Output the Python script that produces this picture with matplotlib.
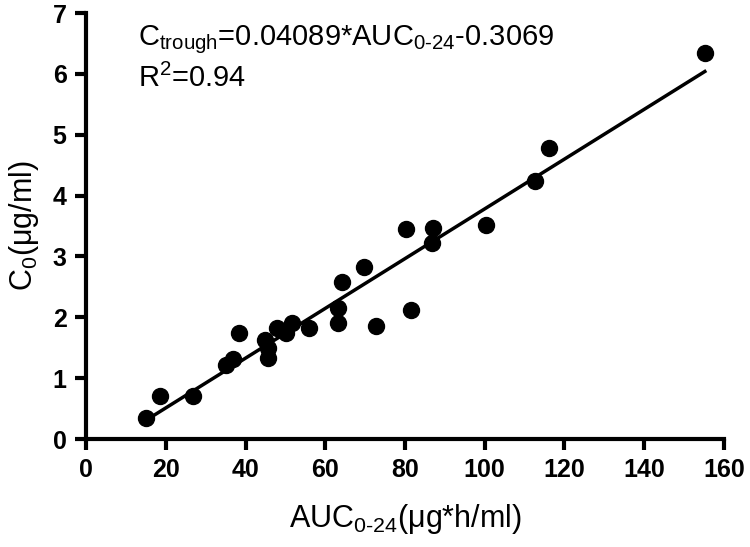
import matplotlib
matplotlib.use('Agg')
import matplotlib.pyplot as plt
import numpy as np

plt.rcParams['font.family'] = ['Liberation Sans', 'DejaVu Sans']
plt.rcParams['mathtext.fontset'] = 'custom'
plt.rcParams['mathtext.rm'] = 'Liberation Sans'
plt.rcParams['mathtext.default'] = 'regular'

# AUC0-24 vs trough concentration
auc = [15.0, 18.6, 26.8, 35.1, 36.9, 38.3, 45.0, 45.6, 45.7, 47.8, 50.1, 51.6, 56.0,
       63.1, 63.1, 64.1, 69.7, 72.7, 80.2, 81.4, 87.1, 86.8, 100.2, 112.7, 116.1, 155.2]
c0 = [0.35, 0.71, 0.71, 1.21, 1.31, 1.75, 1.63, 1.49, 1.33, 1.83, 1.74, 1.90, 1.83,
      2.15, 1.90, 2.58, 2.83, 1.86, 3.45, 2.12, 3.46, 3.22, 3.52, 4.24, 4.79, 6.35]

slope = 0.04089
intercept = -0.3069

fig = plt.figure(figsize=(7.5, 5.47), dpi=100)
ax = fig.add_axes([0.1147, 0.1974, 0.8506, 0.7788])

xs = np.array([min(auc), max(auc)])
ax.plot(xs, slope * xs + intercept, color='black', lw=2.5, zorder=2)
ax.plot(auc, c0, 'o', color='black', ms=11.5, clip_on=False, zorder=3)

ax.set_xlim(0, 160)
ax.set_ylim(0, 7)
ax.set_xticks(range(0, 161, 20))
ax.set_yticks(range(0, 8))

for s in ['top', 'right']:
    ax.spines[s].set_visible(False)
for s in ['left', 'bottom']:
    ax.spines[s].set_linewidth(3)

ax.tick_params(direction='out', length=8, width=3, pad=6)
for lab in ax.get_xticklabels() + ax.get_yticklabels():
    lab.set_fontfamily(['Liberation Sans Narrow', 'Liberation Sans'])
    lab.set_fontweight('bold')
    lab.set_fontsize(18)

ax.set_xlabel(r'AUC$_{0\text{-}24}$(μg*h/ml)', fontsize=22, labelpad=14)
ax.set_ylabel('C$_0$(μg/ml)', fontsize=22, labelpad=8)

ax.text(13, 6.56, r'C$_{trough}$=0.04089*AUC$_{0\text{-}24}$-0.3069', fontsize=21, va='center')
ax.text(13, 5.93, 'R$^2$=0.94', fontsize=21, va='center')

fig.savefig('out.png', dpi=100)
